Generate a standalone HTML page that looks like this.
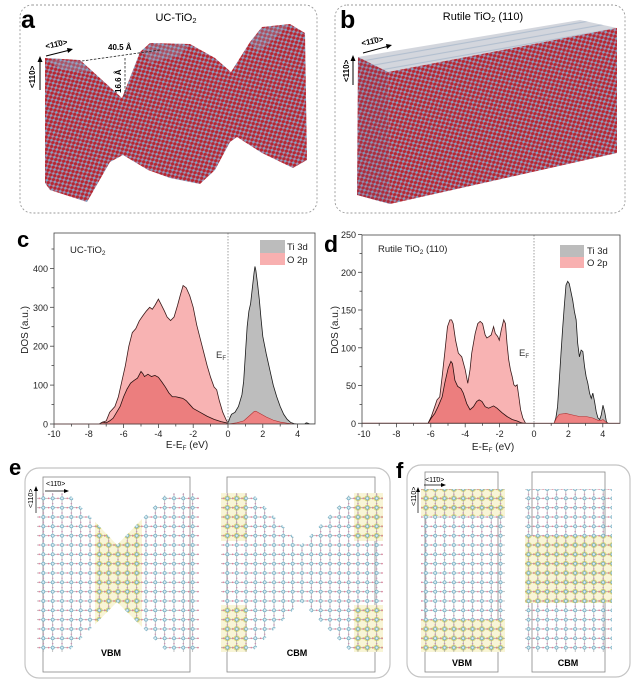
<!DOCTYPE html>
<html><head><meta charset="utf-8"><style>
html,body{margin:0;padding:0;background:#fff;}
svg{display:block;font-family:"Liberation Sans",Arial,sans-serif;}
</style></head><body>
<svg width="632" height="682" viewBox="0 0 632 682" xmlns="http://www.w3.org/2000/svg">
<defs>
<pattern id="atm" width="6" height="5.4" patternUnits="userSpaceOnUse" patternTransform="rotate(-30)">
<rect width="6" height="5.4" fill="#a86a82"/>
<circle cx="1.5" cy="1.4" r="1.55" fill="#b8242e"/>
<circle cx="4.5" cy="4.1" r="1.55" fill="#b8242e"/>
<circle cx="4.5" cy="1.3" r="1.1" fill="#7fa6c8"/>
<circle cx="1.5" cy="4.0" r="0.95" fill="#9a9cc0"/>
</pattern>
<pattern id="topf" width="6" height="6" patternUnits="userSpaceOnUse" patternTransform="rotate(-10)">
<rect width="6" height="6" fill="#d3d6dd"/>
<line x1="0" y1="3" x2="6" y2="3" stroke="#b2bfcf" stroke-width="1.1"/>
</pattern>
<pattern id="lat" x="38.7" y="493.7" width="9.33" height="9.33" patternUnits="userSpaceOnUse">
<line x1="0" y1="4.66" x2="9.33" y2="4.66" stroke="#999" stroke-width="0.6"/>
<line x1="4.66" y1="0" x2="4.66" y2="9.33" stroke="#999" stroke-width="0.6"/>
<circle cx="0.6" cy="4.66" r="0.8" fill="#e07898"/>
<circle cx="4.66" cy="0.6" r="0.7" fill="#c088b0"/>
<circle cx="4.66" cy="4.66" r="1.55" fill="#dceff4" stroke="#5fa2bc" stroke-width="0.65"/>
</pattern>
<pattern id="yel" x="38.7" y="493.7" width="9.33" height="9.33" patternUnits="userSpaceOnUse">
<rect width="9.33" height="9.33" fill="#f8f5d6"/>
<ellipse cx="4.66" cy="4.66" rx="2.9" ry="2.6" fill="#ece27e" stroke="#c4bb50" stroke-width="0.4"/>
<ellipse cx="0.4" cy="4.66" rx="1.3" ry="1.1" fill="#eadf78"/>
</pattern>
<clipPath id="hg"><polygon points="37,493 68,493 117,545 167,493 199,493 199,652 167,652 117,602 68,652 37,652"/></clipPath>
<clipPath id="clipc"><rect x="54" y="233" width="261" height="191"/></clipPath>
<clipPath id="clipd"><rect x="362" y="235" width="258" height="188.3"/></clipPath>
</defs>

<!-- Panel a -->
<rect x="20" y="5" width="297" height="208" rx="12" fill="none" stroke="#9a9a9a" stroke-width="0.9" stroke-dasharray="2,2"/>
<text x="21" y="28" font-size="25" font-weight="bold">a</text>
<text x="176" y="21" font-size="11" text-anchor="middle">UC-TiO<tspan font-size="7.5" dy="2">2</tspan></text>
<polygon points="45,58 80,60 122,98 140,52 150,43 190,44 215,58 231,72 250,42 262,27 290,24 305,33 307,160 293,168 262,153 237,137 230,142 215,170 200,184 170,178 148,170 123,155 110,162 87,202 50,190 45,183" fill="url(#atm)"/>
<polygon points="47,60 80,61 92,72 62,70" fill="#8fb0cc" opacity="0.35"/>
<polygon points="142,52 150,44 188,45 180,56 150,62" fill="#8fb0cc" opacity="0.3"/>
<polygon points="250,42 262,28 289,25 275,38 258,52" fill="#8fb0cc" opacity="0.3"/>
<line x1="82" y1="61" x2="160" y2="50" stroke="#222" stroke-width="0.8" stroke-dasharray="2.5,1.5"/>
<line x1="125" y1="58" x2="125" y2="97" stroke="#222" stroke-width="0.8" stroke-dasharray="2.5,1.5"/>
<text x="108" y="50" font-size="8" font-weight="bold">40.5 Å</text>
<text transform="translate(121,93) rotate(-90)" font-size="8" font-weight="bold">16.6 Å</text>
<text transform="translate(46,49) rotate(-12)" font-size="8" font-weight="bold">&lt;11̄0&gt;</text>
<line x1="46" y1="56" x2="70" y2="50" stroke="#000" stroke-width="1"/>
<polygon points="73,49 67,48 68,53" fill="#000"/>
<text transform="translate(35,88) rotate(-90)" font-size="8" font-weight="bold">&lt;110&gt;</text>
<line x1="40" y1="90" x2="40" y2="60" stroke="#000" stroke-width="1"/>
<polygon points="40,56 37.5,62 42.5,62" fill="#000"/>

<!-- Panel b -->
<rect x="335" y="5" width="290" height="208" rx="12" fill="none" stroke="#9a9a9a" stroke-width="0.9" stroke-dasharray="2,2"/>
<text x="340" y="28" font-size="25" font-weight="bold">b</text>
<text x="483" y="20" font-size="11" text-anchor="middle">Rutile TiO<tspan font-size="7.5" dy="2">2</tspan><tspan dy="-2"> (110)</tspan></text>
<polygon points="358,57 580,20 617,28 388,72" fill="url(#topf)"/>
<polygon points="388,72 617,28 617,153 390,204" fill="url(#atm)"/>
<polygon points="358,57 388,72 390,204 357,195" fill="url(#atm)"/>
<polygon points="358,57 388,72 390,204 357,195" fill="#6f5a80" opacity="0.15"/>
<text transform="translate(362,46) rotate(-12)" font-size="8" font-weight="bold">&lt;11̄0&gt;</text>
<line x1="363" y1="53" x2="389" y2="46" stroke="#000" stroke-width="1"/>
<polygon points="392,45 386,44 387,49" fill="#000"/>
<text transform="translate(349,82) rotate(-90)" font-size="8" font-weight="bold">&lt;110&gt;</text>
<line x1="353" y1="85" x2="353" y2="59" stroke="#000" stroke-width="1"/>
<polygon points="353,55 350.5,61 355.5,61" fill="#000"/>

<!-- Panel c -->
<text x="17" y="247" font-size="22" font-weight="bold">c</text>
<g clip-path="url(#clipc)">
<g transform="translate(228,424) scale(17.4,-0.389)">
<path d="M-10,0 L-7.4,0 -7.2,5 -7,8 -6.8,30 -6.5,45 -6.3,70 -6.1,110 -5.9,150 -5.7,200 -5.5,235 -5.3,245 -5.1,265 -4.9,278 -4.7,290 -4.5,300 -4.35,295 -4.2,305 -4.0,321 -3.85,308 -3.65,290 -3.5,275 -3.3,266 -3.1,275 -2.9,305 -2.75,330 -2.58,356 -2.4,350 -2.2,330 -2,300 -1.8,255 -1.6,220 -1.4,185 -1.2,150 -1,120 -0.8,95 -0.65,88 -0.5,60 -0.3,30 -0.1,10 0,3 L0,0 Z" fill="#f8b3b3" stroke="#3a1a1a" stroke-width="0.8" vector-effect="non-scaling-stroke"/>
<path d="M-7.4,0 L-7.2,5 -7,3 -6.8,8 -6.6,15 -6.4,30 -6.2,45 -6,70 -5.8,90 -5.6,105 -5.4,112 -5.2,118 -5.0,135 -4.9,130 -4.8,122 -4.6,128 -4.4,122 -4.2,125 -4,120 -3.8,108 -3.6,95 -3.4,80 -3.2,70 -3,70 -2.8,68 -2.6,66 -2.4,60 -2.2,50 -2,40 -1.6,30 -1.2,20 -0.8,12 -0.4,6 0,2 L0,0 Z" fill="#ec7e7e" stroke="#2a1010" stroke-width="0.8" vector-effect="non-scaling-stroke"/>
<path d="M0,0 L0,2 0.1,15 0.2,25 0.4,30 0.6,45 0.8,75 0.9,110 1.0,180 1.1,250 1.2,290 1.3,310 1.4,350 1.5,390 1.55,405 1.6,395 1.7,360 1.8,320 1.9,270 2.0,225 2.2,180 2.4,140 2.6,100 2.8,70 3.0,45 3.2,25 3.4,12 3.6,4 3.8,1 4.0,0 4.4,0 4.5,3 4.6,2 4.7,0 5,0 Z" fill="#bdbdbd" stroke="#1a1a1a" stroke-width="0.8" vector-effect="non-scaling-stroke"/>
<path d="M0,0 L0.5,3 0.9,8 1.2,20 1.5,32 1.6,33 1.8,28 2.2,18 2.6,10 3,5 3.4,2 3.8,0 Z" fill="#ee8282" stroke="#b03030" stroke-width="0.6" vector-effect="non-scaling-stroke"/>
</g>
</g>
<line x1="54" y1="424" x2="228" y2="424" stroke="#e06060" stroke-width="0.9"/>
<line x1="228" y1="233" x2="228" y2="424" stroke="#888" stroke-width="0.8" stroke-dasharray="1.5,1.5"/>
<rect x="54" y="233" width="261" height="191" fill="none" stroke="#444" stroke-width="0.8"/>
<g stroke="#444" stroke-width="0.8">
<line x1="54" y1="424" x2="54" y2="428"/><line x1="71.4" y1="424" x2="71.4" y2="426.5"/>
<line x1="88.8" y1="424" x2="88.8" y2="428"/><line x1="106.2" y1="424" x2="106.2" y2="426.5"/>
<line x1="123.6" y1="424" x2="123.6" y2="428"/><line x1="141" y1="424" x2="141" y2="426.5"/>
<line x1="158.4" y1="424" x2="158.4" y2="428"/><line x1="175.8" y1="424" x2="175.8" y2="426.5"/>
<line x1="193.2" y1="424" x2="193.2" y2="428"/><line x1="210.6" y1="424" x2="210.6" y2="426.5"/>
<line x1="228" y1="424" x2="228" y2="428"/><line x1="245.4" y1="424" x2="245.4" y2="426.5"/>
<line x1="262.8" y1="424" x2="262.8" y2="428"/><line x1="280.2" y1="424" x2="280.2" y2="426.5"/>
<line x1="297.6" y1="424" x2="297.6" y2="428"/>
<line x1="50" y1="424" x2="54" y2="424"/><line x1="51.5" y1="404.5" x2="54" y2="404.5"/>
<line x1="50" y1="385.1" x2="54" y2="385.1"/><line x1="51.5" y1="365.6" x2="54" y2="365.6"/>
<line x1="50" y1="346.2" x2="54" y2="346.2"/><line x1="51.5" y1="326.7" x2="54" y2="326.7"/>
<line x1="50" y1="307.3" x2="54" y2="307.3"/><line x1="51.5" y1="287.8" x2="54" y2="287.8"/>
<line x1="50" y1="268.4" x2="54" y2="268.4"/><line x1="51.5" y1="249" x2="54" y2="249"/>
</g>
<g font-size="9" text-anchor="middle" fill="#222">
<text x="54" y="437">-10</text><text x="88.8" y="437">-8</text><text x="123.6" y="437">-6</text>
<text x="158.4" y="437">-4</text><text x="193.2" y="437">-2</text><text x="228" y="437">0</text>
<text x="262.8" y="437">2</text><text x="297.6" y="437">4</text>
</g>
<g font-size="9" text-anchor="end" fill="#222">
<text x="48" y="427.5">0</text><text x="48" y="388.6">100</text><text x="48" y="349.7">200</text>
<text x="48" y="310.8">300</text><text x="48" y="271.9">400</text>
</g>
<text x="187" y="448" font-size="10" text-anchor="middle" fill="#222">E-E<tspan font-size="6.5" dy="2">F</tspan><tspan dy="-2"> (eV)</tspan></text>
<text transform="translate(28,330) rotate(-90)" font-size="10" text-anchor="middle" fill="#222">DOS (a.u.)</text>
<text x="70" y="253" font-size="9.5" fill="#222">UC-TiO<tspan font-size="6.5" dy="2">2</tspan></text>
<text x="216" y="358" font-size="9.5" fill="#333">E<tspan font-size="6" dy="2">F</tspan></text>
<rect x="260" y="240" width="25" height="13" fill="#bcbcbc"/>
<rect x="260" y="253" width="25" height="12" fill="#f8b0b0"/>
<text x="287" y="250" font-size="9.5" fill="#222">Ti 3d</text>
<text x="287" y="263" font-size="9.5" fill="#222">O 2p</text>

<!-- Panel d -->
<text x="324" y="252" font-size="23" font-weight="bold">d</text>
<g clip-path="url(#clipd)">
<g transform="translate(534,423.3) scale(17.2,-0.755)">
<path d="M-10,0 L-6.16,0 -5.97,9 -5.77,22 -5.64,31 -5.48,35 -5.34,62 -5.19,93 -5.03,128 -4.89,137 -4.79,137 -4.7,132 -4.56,110 -4.4,93 -4.2,88 -4.0,71 -3.85,53 -3.72,71 -3.62,93 -3.42,119 -3.27,132 -3.13,135 -2.99,132 -2.84,117 -2.74,113 -2.6,115 -2.49,117 -2.35,128 -2.25,119 -2.11,115 -2.02,110 -1.9,124 -1.76,137 -1.66,132 -1.57,106 -1.47,84 -1.37,71 -1.27,62 -1.17,51 -1.08,49 -0.98,51 -0.88,35 -0.78,18 -0.65,7 -0.49,0 Z" fill="#f8b3b3" stroke="#3a1a1a" stroke-width="0.8" vector-effect="non-scaling-stroke"/>
<path d="M-6.16,0 L-5.97,7 -5.77,13 -5.58,22 -5.34,35 -5.19,53 -4.99,73 -4.83,82 -4.74,79 -4.6,57 -4.44,49 -4.25,46 -4.11,40 -3.91,26 -3.72,18 -3.52,22 -3.33,29 -3.19,31 -3.03,29 -2.84,22 -2.64,20 -2.45,22 -2.35,23 -2.15,20 -1.86,14 -1.57,9 -1.27,5 -0.98,3 -0.78,1 -0.59,0 Z" fill="#ec7e7e" stroke="#2a1010" stroke-width="0.8" vector-effect="non-scaling-stroke"/>
<path d="M1.17,0 L1.27,7 1.37,22 1.47,57 1.57,93 1.66,124 1.76,155 1.86,183 1.96,188 2.05,185 2.15,174 2.25,163 2.35,148 2.45,137 2.54,106 2.64,88 2.74,97 2.84,95 2.94,75 3.03,62 3.13,53 3.23,40 3.33,33 3.42,40 3.52,29 3.62,15 3.72,7 3.82,5 3.91,11 4.01,24 4.11,15 4.21,2 4.3,0 Z" fill="#bdbdbd" stroke="#1a1a1a" stroke-width="0.8" vector-effect="non-scaling-stroke"/>
<path d="M1.17,0 L1.31,7 1.47,12 1.86,13 2.25,11 2.64,9 3.03,9 3.42,7 3.72,4 3.91,4 4.01,5 4.21,1 4.3,0 Z" fill="#ee8282" stroke="#b03030" stroke-width="0.6" vector-effect="non-scaling-stroke"/>
</g>
</g>
<line x1="362" y1="423.3" x2="620" y2="423.3" stroke="#e06060" stroke-width="0.9"/>
<line x1="534" y1="235" x2="534" y2="423.3" stroke="#888" stroke-width="0.8" stroke-dasharray="1.5,1.5"/>
<rect x="362" y="235" width="258" height="188.3" fill="none" stroke="#444" stroke-width="0.8"/>
<g stroke="#444" stroke-width="0.8">
<line x1="362" y1="423.3" x2="362" y2="427.3"/><line x1="379.2" y1="423.3" x2="379.2" y2="425.8"/>
<line x1="396.4" y1="423.3" x2="396.4" y2="427.3"/><line x1="413.6" y1="423.3" x2="413.6" y2="425.8"/>
<line x1="430.8" y1="423.3" x2="430.8" y2="427.3"/><line x1="448" y1="423.3" x2="448" y2="425.8"/>
<line x1="465.2" y1="423.3" x2="465.2" y2="427.3"/><line x1="482.4" y1="423.3" x2="482.4" y2="425.8"/>
<line x1="499.6" y1="423.3" x2="499.6" y2="427.3"/><line x1="516.8" y1="423.3" x2="516.8" y2="425.8"/>
<line x1="534" y1="423.3" x2="534" y2="427.3"/><line x1="551.2" y1="423.3" x2="551.2" y2="425.8"/>
<line x1="568.4" y1="423.3" x2="568.4" y2="427.3"/><line x1="585.6" y1="423.3" x2="585.6" y2="425.8"/>
<line x1="602.8" y1="423.3" x2="602.8" y2="427.3"/>
<line x1="358" y1="423.3" x2="362" y2="423.3"/><line x1="359.5" y1="404.4" x2="362" y2="404.4"/>
<line x1="358" y1="385.5" x2="362" y2="385.5"/><line x1="359.5" y1="366.7" x2="362" y2="366.7"/>
<line x1="358" y1="347.8" x2="362" y2="347.8"/><line x1="359.5" y1="328.9" x2="362" y2="328.9"/>
<line x1="358" y1="310" x2="362" y2="310"/><line x1="359.5" y1="291.2" x2="362" y2="291.2"/>
<line x1="358" y1="272.3" x2="362" y2="272.3"/><line x1="359.5" y1="253.4" x2="362" y2="253.4"/>
<line x1="358" y1="234.6" x2="362" y2="234.6"/>
</g>
<g font-size="9" text-anchor="middle" fill="#222">
<text x="364" y="437">-10</text><text x="396.4" y="437">-8</text><text x="430.8" y="437">-6</text>
<text x="465.2" y="437">-4</text><text x="499.6" y="437">-2</text><text x="534" y="437">0</text>
<text x="568.4" y="437">2</text><text x="602.8" y="437">4</text>
</g>
<g font-size="9" text-anchor="end" fill="#222">
<text x="356" y="426.8">0</text><text x="356" y="389">50</text><text x="356" y="351.3">100</text>
<text x="356" y="313.5">150</text><text x="356" y="275.8">200</text><text x="356" y="238.1">250</text>
</g>
<text x="493" y="450" font-size="10" text-anchor="middle" fill="#222">E-E<tspan font-size="6.5" dy="2">F</tspan><tspan dy="-2"> (eV)</tspan></text>
<text transform="translate(338,330) rotate(-90)" font-size="10" text-anchor="middle" fill="#222">DOS (a.u.)</text>
<text x="378" y="252" font-size="9.5" fill="#222">Rutile TiO<tspan font-size="6.5" dy="2">2</tspan><tspan dy="-2"> (110)</tspan></text>
<text x="519" y="356" font-size="9.5" fill="#333">E<tspan font-size="6" dy="2">F</tspan></text>
<rect x="560" y="245" width="24" height="12" fill="#bcbcbc"/>
<rect x="560" y="257" width="24" height="11" fill="#f8b0b0"/>
<text x="587" y="254" font-size="9.5" fill="#222">Ti 3d</text>
<text x="587" y="266" font-size="9.5" fill="#222">O 2p</text>

<!-- Panel e -->
<text x="9" y="475" font-size="22" font-weight="bold">e</text>
<rect x="25" y="468" width="365" height="210" rx="14" fill="none" stroke="#c4c4c4" stroke-width="1.2"/>
<rect x="43" y="477" width="147" height="195" fill="none" stroke="#888" stroke-width="0.8"/>
<rect x="227" y="477" width="148" height="195" fill="none" stroke="#888" stroke-width="0.8"/>
<g clip-path="url(#hg)">
<rect x="95" y="490" width="47" height="165" fill="url(#yel)"/>
<rect x="30" y="490" width="175" height="165" fill="url(#lat)"/>
</g>
<g transform="translate(184,0)">
<g clip-path="url(#hg)">
<rect x="37" y="493" width="26" height="48" fill="url(#yel)"/>
<rect x="37" y="605" width="26" height="48" fill="url(#yel)"/>
<rect x="170" y="493" width="29" height="48" fill="url(#yel)"/>
<rect x="170" y="605" width="29" height="48" fill="url(#yel)"/>
<rect x="30" y="490" width="175" height="165" fill="url(#lat)"/>
</g>
</g>
<text x="46" y="486" font-size="7">&lt;11̄0&gt;</text>
<line x1="45" y1="491" x2="66" y2="491" stroke="#000" stroke-width="0.7"/>
<polygon points="69,491 64,489 64,493" fill="#000"/>
<text transform="translate(33,508) rotate(-90)" font-size="7">&lt;110&gt;</text>
<line x1="36" y1="513" x2="36" y2="489" stroke="#000" stroke-width="0.7"/>
<polygon points="36,486 34,491 38,491" fill="#000"/>
<text x="111" y="656" font-size="9" font-weight="bold" text-anchor="middle">VBM</text>
<text x="297" y="656" font-size="9" font-weight="bold" text-anchor="middle">CBM</text>

<!-- Panel f -->
<text x="396" y="478" font-size="22" font-weight="bold">f</text>
<rect x="407" y="465" width="223" height="212" rx="14" fill="none" stroke="#c4c4c4" stroke-width="1.2"/>
<rect x="425" y="472" width="73" height="200" fill="none" stroke="#888" stroke-width="0.8"/>
<rect x="532" y="472" width="73" height="200" fill="none" stroke="#888" stroke-width="0.8"/>
<rect x="421" y="489" width="84" height="27" fill="url(#yel)"/>
<rect x="421" y="620" width="84" height="32" fill="url(#yel)"/>
<rect x="421" y="489" width="84" height="163" fill="url(#lat)"/>
<rect x="525" y="536" width="87" height="67" fill="url(#yel)"/>
<rect x="525" y="489" width="87" height="163" fill="url(#lat)"/>
<text x="425" y="482" font-size="7">&lt;11̄0&gt;</text>
<line x1="424" y1="485" x2="443" y2="485" stroke="#000" stroke-width="0.7"/>
<polygon points="446,485 441,483 441,487" fill="#000"/>
<text transform="translate(416,506) rotate(-90)" font-size="7">&lt;110&gt;</text>
<line x1="418" y1="513" x2="418" y2="490" stroke="#000" stroke-width="0.7"/>
<polygon points="418,487 416,492 420,492" fill="#000"/>
<text x="462" y="666" font-size="9" font-weight="bold" text-anchor="middle">VBM</text>
<text x="568" y="666" font-size="9" font-weight="bold" text-anchor="middle">CBM</text>
</svg>
</body></html>
